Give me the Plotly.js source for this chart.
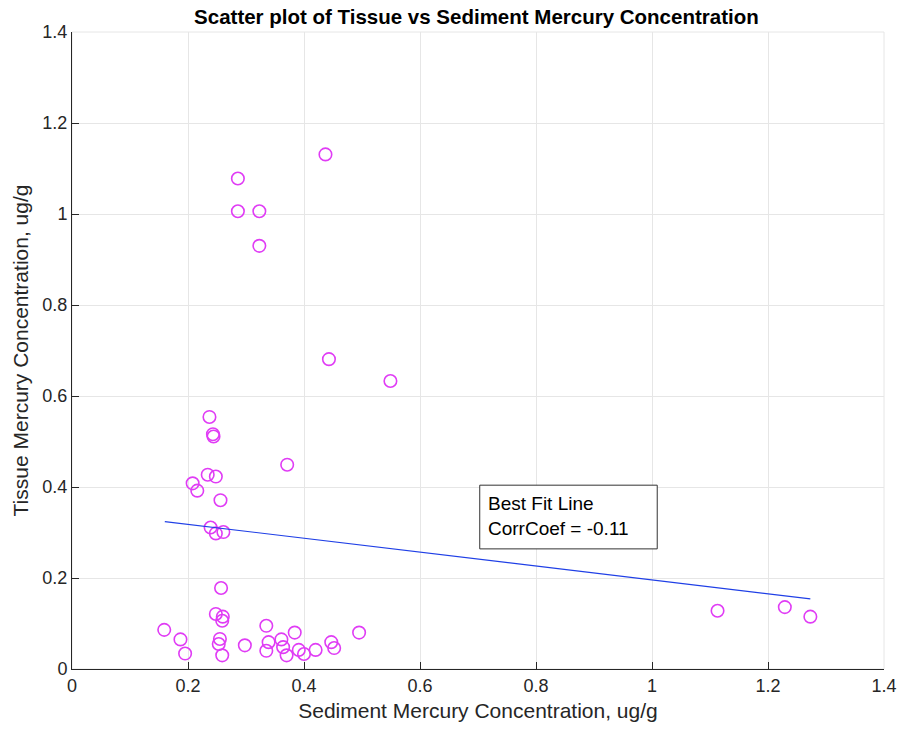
<!DOCTYPE html>
<html>
<head>
<meta charset="utf-8">
<script src="https://cdn.plot.ly/plotly-3.0.1.min.js"></script>
<style>html,body{margin:0;padding:0;background:#fff;}#chart{width:904px;height:732px;}</style>
</head>
<body>
<div id="chart"></div>
<script>
var sedimentX = [0.237,0.243,0.244,0.234,0.248,0.208,0.216,0.256,0.371,0.239,0.248,0.261,0.257,0.248,0.260,0.259,
  0.159,0.187,0.195,0.255,0.253,0.259,0.298,0.335,0.339,0.335,0.361,0.364,0.370,0.384,0.391,0.400,0.420,0.447,0.452,0.495,
  0.437,0.286,0.286,0.323,0.323,0.443,0.549,1.113,1.229,1.273];
var tissueY = [0.554,0.516,0.511,0.427,0.423,0.408,0.392,0.371,0.449,0.311,0.298,0.301,0.178,0.121,0.115,0.106,
  0.086,0.065,0.034,0.066,0.055,0.030,0.052,0.095,0.059,0.040,0.065,0.048,0.030,0.080,0.042,0.033,0.042,0.059,0.046,0.080,
  1.131,1.078,1.006,1.006,0.930,0.681,0.633,0.128,0.136,0.115];
var fitX = [0.160, 1.273];
var fitY = [0.324, 0.154];
var xTicks = [0,0.2,0.4,0.6,0.8,1,1.2,1.4];
var xTickLabels = ['0','0.2','0.4','0.6','0.8','1','1.2','1.4'];
var yTicks = [0,0.2,0.4,0.6,0.8,1,1.2,1.4];
var yTickLabels = ['0','0.2','0.4','0.6','0.8','1','1.2','1.4'];
var noteLines = ['Best Fit Line','CorrCoef = -0.11'];

var fam = '"Liberation Sans", Arial, Helvetica, sans-serif';
var tickFont = {family:fam, size:18, color:'#262626'};

var traces = [
  {x: sedimentX, y: tissueY, type:'scatter', mode:'markers',
   marker:{symbol:'circle-open', size:12.5, color:'#e03cf5', line:{width:1.6, color:'#e03cf5'}},
   hoverinfo:'x+y', showlegend:false},
  {x: fitX, y: fitY, type:'scatter', mode:'lines',
   line:{color:'#1f3fe6', width:1.2}, showlegend:false}
];

var layout = {
  width:904, height:732,
  margin:{l:72, r:20, t:32, b:63},
  paper_bgcolor:'#fff', plot_bgcolor:'#fff',
  title:{text:'<b>Scatter plot of Tissue vs Sediment Mercury Concentration</b>',
    font:{family:fam, size:20.5, color:'#000'},
    x:0.527, xanchor:'center', y:0.977, yanchor:'middle'},
  xaxis:{range:[0,1.4], tickvals:xTicks, ticktext:xTickLabels, ticks:'inside', ticklen:7, tickcolor:'#262626',
    showgrid:true, gridcolor:'#e6e6e6', gridwidth:1, zeroline:false,
    showline:true, linecolor:'#262626', linewidth:1, tickfont:tickFont,
    title:{text:'Sediment Mercury Concentration, ug/g', font:{family:fam, size:21, color:'#262626'}, standoff:8}},
  yaxis:{range:[0,1.4], tickvals:yTicks, ticktext:yTickLabels, ticks:'inside', ticklen:7, tickcolor:'#262626',
    showgrid:true, gridcolor:'#e6e6e6', gridwidth:1, zeroline:false,
    showline:true, linecolor:'#262626', linewidth:1, tickfont:tickFont,
    title:{text:'Tissue Mercury Concentration, ug/g', font:{family:fam, size:21, color:'#262626'}, standoff:8}},
  shapes:[
    {type:'rect', xref:'paper', yref:'paper', x0:0, x1:1, y0:0, y1:1, line:{color:'#e6e6e6', width:1}, layer:'below'},
    {type:'rect', xref:'x', yref:'y', x0:0.703, x1:1.009, y0:0.264, y1:0.404, line:{color:'#333', width:1}, fillcolor:'#fff'}
  ],
  annotations:[
    {xref:'x', yref:'y', x:0.713, y:0.336, xanchor:'left', yanchor:'middle', align:'left',
     text: noteLines.join('<br>'), showarrow:false,
     font:{family:fam, size:19, color:'#000'}}
  ]
};

Plotly.newPlot('chart', traces, layout, {displayModeBar:false, staticPlot:true});
</script>
</body>
</html>
